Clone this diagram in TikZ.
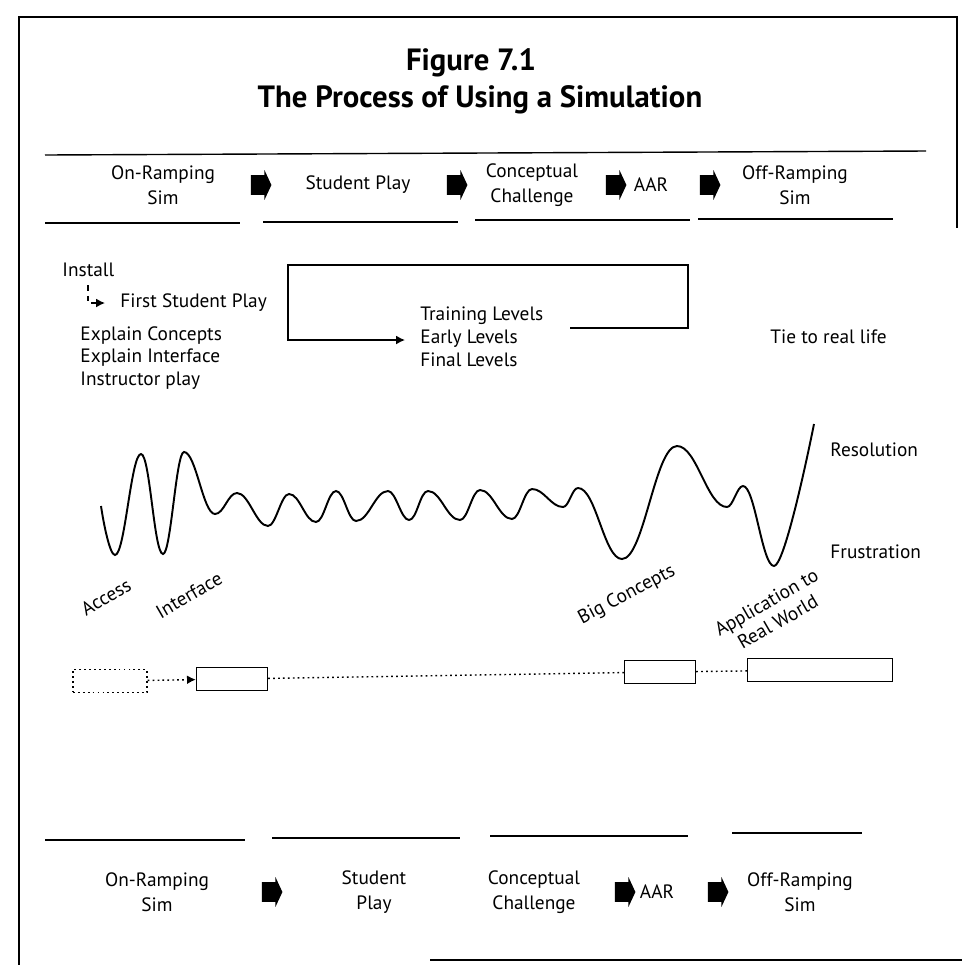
\documentclass[tikz,border=0pt]{standalone}
\usepackage{fontspec}
\setmainfont{PT Sans}
\usetikzlibrary{arrows.meta,shapes.arrows,calc}

\tikzset{
  stage/.style={align=center, inner sep=1pt, font=\fontsize{11}{14.5}\selectfont},
  txt/.style={align=left, inner sep=1pt, anchor=west, font=\fontsize{11}{13}\selectfont},
  lbl/.style={align=center, inner sep=1pt, rotate=30, font=\fontsize{11}{13}\selectfont},
  heading/.style={inner sep=1pt, font=\fontsize{17.5}{21}\bfseries\selectfont},
  bigarrow/.style={single arrow, fill=black, draw=black, inner xsep=0pt, inner ysep=0.17cm,
    minimum height=0.38cm, single arrow head extend=0.05cm, single arrow tip angle=130},
  simbox/.style={draw, line width=0.8pt, inner sep=0pt, minimum height=0.45cm},
  dots/.style={line width=0.8pt, dash pattern=on 1pt off 1.8pt},
  tip/.style={-{Latex[length=5pt,width=5pt]}}
}

\begin{document}
\begin{tikzpicture}[x=0.02cm, y=-0.02cm, line width=0.8pt]
	\useasboundingbox (0,0) rectangle (962,965);
	
	% Frame
	\draw[line width=1.1pt] (19,965) -- (19,17) -- (957,17) -- (957,228);
	\draw (430,960) -- (962,960);
	
	% Heading
	\node[heading] (fig) at (471,63) {Figure 7.1};
	\node[heading] (caption) at (480,100) {The Process of Using a Simulation};
	\draw (45,155) -- (926,151);
	
	% Top row of stages
	\node[stage] (onramp) at (163,185) {On-Ramping\\Sim};
	\node[stage] (play) at (358,185) {Student Play};
	\node[stage] (challenge) at (532,185) {Conceptual\\Challenge};
	\node[stage] (aar) at (651,185) {AAR};
	\node[stage] (offramp) at (795,185) {Off-Ramping\\Sim};
	\foreach \x in {259,455,614,708}
	\node[bigarrow] at (\x,185) {};
	\foreach \a/\b/\y in {45/240/223, 263/458/222, 475/690/220, 698/893/219}
	\draw (\a,\y) -- (\b,\y);
	
	% On-ramping steps
	\node[txt] (install) at (60,270) {Install};
	\node[txt] (first) at (118,303) {First Student Play};
	\node[txt] (explain) at (78,358) {Explain Concepts\\Explain Interface\\Instructor play};
	\draw[dashed, tip, shorten >=0.26cm] ($(install.south west)+(28,6)$) |- (first.west);
	
	% Play loop
	\node[txt] (levels) at (418,337) {Training Levels\\Early Levels\\Final Levels};
	\node[txt] (tie) at (768,337) {Tie to real life};
	\coordinate (loopstart) at (570,328);
	\coordinate (loopne) at (688,265);
	\coordinate (loopsw) at (288,340);
	\draw[tip, shorten >=0.26cm] (loopstart) -| (loopne) -| (loopsw) -- (levels.west |- loopsw);
	
	% Frustration / resolution curve
	\draw[line width=1.1pt] (101,506)
		.. controls +(3,20) and +(-5,0) .. (115,555)
		.. controls +(10,0) and +(-10,0) .. (141,454)
		.. controls +(9,0) and +(-9,0) .. (163,554)
		.. controls +(8,0) and +(-8,0) .. (184,452)
		.. controls +(12,0) and +(-12,0) .. (215,514)
		.. controls +(9,0) and +(-9,0) .. (237,493)
		.. controls +(12,0) and +(-12,0) .. (268,526)
		.. controls +(8,0) and +(-8,0) .. (289,494)
		.. controls +(11,0) and +(-11,0) .. (316,522)
		.. controls +(8,0) and +(-8,0) .. (336,491)
		.. controls +(8,0) and +(-8,0) .. (356,521)
		.. controls +(13,0) and +(-13,0) .. (388,491)
		.. controls +(8,0) and +(-8,0) .. (409,520)
		.. controls +(8,0) and +(-8,0) .. (428,491)
		.. controls +(13,0) and +(-13,0) .. (460,520)
		.. controls +(8,0) and +(-8,0) .. (480,490)
		.. controls +(13,0) and +(-13,0) .. (512,519)
		.. controls +(8,0) and +(-8,0) .. (532,489)
		.. controls +(12,0) and +(-12,0) .. (563,507)
		.. controls +(6,0) and +(-6,0) .. (578,488)
		.. controls +(18,0) and +(-18,0) .. (622,559)
		.. controls +(22,0) and +(-22,0) .. (677,446)
		.. controls +(20,0) and +(-20,0) .. (727,507)
		.. controls +(6,0) and +(-6,0) .. (743,486)
		.. controls +(12,0) and +(-12,0) .. (774,566)
		.. controls +(10,0) and +(-8,40) .. (814,424);
	\node[txt] (resolution) at (828,450) {Resolution};
	\node[txt] (frustration) at (828,552) {Frustration};
	\node[lbl] (access) at (106,597) {Access};
	\node[lbl] (interface) at (189,595) {Interface};
	\node[lbl, rotate=-2] (concepts) at (627,595) {Big Concepts};
	\node[lbl] (apply) at (772,612) {Application to\\Real World};
	
	% Stage boxes
	\node[simbox, dots, minimum width=1.48cm] (onbox) at (110,681) {};
	\node[simbox, minimum width=1.42cm] (playbox) at (232,679) {};
	\node[simbox, minimum width=1.42cm] (bigbox) at (660,672) {};
	\node[simbox, minimum width=2.9cm] (realbox) at (820,670) {};
	\draw[dots, tip] (onbox) -- (playbox);
	\draw[dots] (playbox) -- (bigbox);
	\draw[dots] (bigbox) -- (realbox);
	
	% Bottom row of stages
	\foreach \a/\b/\y in {45/245/840, 272/460/838, 490/688/836, 732/862/833}
	\draw (\a,\y) -- (\b,\y);
	\node[stage] (onramp2) at (157,892) {On-Ramping\\Sim};
	\node[stage] (play2) at (374,892) {Student\\Play};
	\node[stage] (challenge2) at (534,892) {Conceptual\\Challenge};
	\node[stage] (aar2) at (657,892) {AAR};
	\node[stage] (offramp2) at (800,892) {Off-Ramping\\Sim};
	\foreach \x in {270,623,716}
	\node[bigarrow] at (\x,892) {};
\end{tikzpicture}
\end{document}
